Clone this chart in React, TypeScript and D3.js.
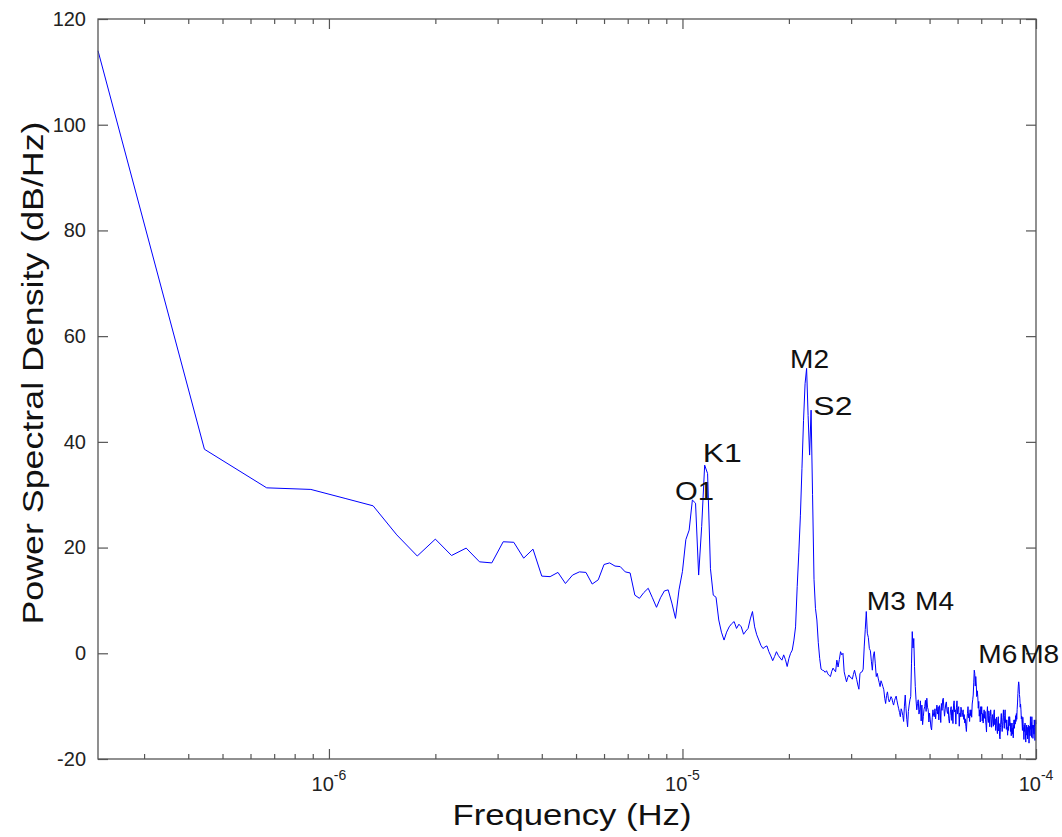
import { useEffect, useRef } from "react";
import * as d3 from "d3";

// frequency resolution of the periodogram (bin k sits at k * binWidthHz)
const binWidthHz = 2.2222e-7;

// PSD in dB/Hz, bins 1..45
const psdLowBand = [
  114.0, 38.6, 31.3, 31.0, 29.3, 27.9, 22.4, 18.4, 21.6, 18.5,
  19.9, 17.3, 17.1, 21.1, 21.0, 18.0, 19.7, 14.6, 14.5, 15.3,
  13.2, 14.8, 15.4, 15.3, 13.1, 13.9, 16.8, 17.1, 16.5, 16.4,
  15.4, 15.2, 11.0, 10.4, 11.5, 12.3, 10.5, 8.7, 10.5, 11.8,
  12.0, 9.5, 6.6, 12.0, 15.5,
];

// bins 46..110 (diurnal and semidiurnal peaks)
const psdTidalBand = [
  21.5, 23.3, 29.0, 28.4, 14.8, 24.0, 35.6, 34.0, 16.0, 11.0,
  10.6, 6.3, 4.0, 2.5, 4.0, 5.0, 5.6, 6.0, 4.7, 5.5,
  5.0, 3.6, 4.2, 4.7, 6.5, 7.9, 5.0, 3.5, 2.5, 1.5,
  0.9, 1.2, 1.4, 0.3, -0.5, -1.4, -0.6, 0.3, -0.4, -0.9,
  -1.3, -0.3, -1.2, -2.5, -1.0, 0.0, 0.6, 2.5, 5.0, 12.6,
  19.0, 26.0, 35.0, 44.0, 51.0, 53.9, 45.0, 37.5, 46.0, 30.0,
  14.0, 8.5, 6.3, 2.0, -1.0,
];

// bins 111..207 (M3, M4)
const psdMidBand = [
  -3.0, -3.2, -3.3, -3.6, -3.3, -3.9, -4.2, -4.4, -3.4, -2.8,
  -3.2, -3.5, -1.3, -2.6, -1.2, 0.3, -0.3, 0.0, -3.5, -4.5,
  -5.4, -4.6, -4.1, -4.5, -4.6, -4.9, -4.0, -3.2, -4.1, -5.0,
  -6.0, -6.8, -3.8, -3.6, -3.5, -3.0, 1.2, 4.5, 7.9, 3.8,
  3.0, 0.9, 0.5, -1.5, -3.2, -0.5, 0.3, -2.0, -4.4, -3.8,
  -4.7, -5.5, -6.3, -5.2, -5.7, -6.3, -6.9, -8.5, -9.5, -8.0,
  -7.3, -8.5, -9.2, -8.8, -8.2, -8.5, -9.3, -9.8, -9.0, -8.5,
  -8.1, -9.0, -9.8, -10.5, -11.2, -12.0, -10.5, -11.0, -11.8, -12.9,
  -10.0, -7.9, -10.5, -12.5, -13.9, -11.0, -9.8, -8.8, -8.2, -2.0,
  4.1, 1.0, 2.8, -2.5, -6.3, -8.8, -10.7,
];

// bins 208..450 (M6, M8 and the noise floor)
const psdHighBand = [
  -9.5, -8.8, -11.5, -10.7, -9.0, -12.8, -9.8, -13.5, -12.0, -10.6,
  -10.1, -8.9, -11.0, -8.5, -10.2, -10.7, -13.0, -11.3, -12.6, -14.0,
  -14.5, -12.2, -10.7, -11.8, -12.0, -10.5, -12.4, -11.0, -9.8, -11.5,
  -10.1, -12.6, -9.9, -10.7, -13.1, -9.5, -10.8, -8.8, -8.5, -10.4,
  -11.9, -10.7, -9.6, -9.2, -10.9, -11.4, -10.2, -12.4, -13.2, -11.8,
  -10.6, -10.1, -12.7, -10.7, -13.3, -9.8, -9.0, -11.1, -10.7, -13.4,
  -10.2, -9.0, -11.5, -10.6, -10.1, -13.8, -11.3, -12.0, -10.2, -10.7,
  -12.0, -11.2, -10.7, -12.5, -11.6, -13.2, -12.4, -13.8, -14.8, -12.6,
  -11.4, -10.1, -12.2, -11.4, -12.9, -10.7, -11.8, -10.7, -12.1, -9.6,
  -8.8, -7.9, -5.6, -3.2, -3.8, -6.2, -4.4, -6.0, -8.2, -7.1,
  -8.2, -10.4, -9.1, -11.9, -10.7, -13.0, -10.1, -11.5, -10.1, -12.8,
  -11.4, -13.2, -11.4, -10.7, -12.3, -11.0, -12.6, -13.6, -14.9, -11.5,
  -10.1, -12.4, -13.1, -10.9, -11.8, -13.9, -12.0, -10.7, -11.9, -14.0,
  -13.2, -11.6, -12.3, -13.8, -11.2, -10.7, -13.5, -12.4, -14.6, -13.2,
  -12.1, -14.3, -15.2, -13.0, -12.0, -14.7, -13.3, -15.8, -16.2, -14.1,
  -12.6, -11.4, -13.5, -14.8, -13.6, -12.1, -10.7, -12.9, -14.2, -11.8,
  -10.7, -13.1, -12.6, -14.4, -12.6, -13.9, -15.5, -13.9, -14.6, -12.0,
  -13.7, -12.0, -12.9, -14.8, -13.2, -15.6, -14.1, -13.2, -15.3, -14.1,
  -16.0, -13.5, -12.6, -14.2, -12.6, -13.4, -11.8, -12.9, -11.4, -12.5,
  -10.6, -9.4, -7.6, -6.2, -5.4, -6.0, -7.8, -8.5, -10.2, -9.6,
  -10.7, -12.4, -11.9, -13.2, -14.6, -12.1, -13.8, -14.5, -16.3, -13.6,
  -14.8, -13.2, -15.1, -16.8, -14.4, -13.6, -15.5, -14.0, -16.2, -15.1,
  -13.6, -14.9, -17.0, -15.1, -13.8, -15.6, -12.0, -14.4, -13.1, -15.9,
  -12.0, -14.2, -13.6, -16.1, -14.7, -13.6, -15.3, -12.6, -14.0, -16.5,
  -13.8, -12.6, -13.4,
];

const yTicks = [-20, 0, 20, 40, 60, 80, 100, 120];
const xMajorTicks = [1e-6, 1e-5, 1e-4];
const xMajorExponents = ["-6", "-5", "-4"];

// tidal constituent labels: name, frequency (Hz) and dB of the text baseline
const tideNames = ["O1", "K1", "M2", "S2", "M3", "M4", "M6", "M8"];
const tideFreqs = [9.53e-6, 1.141e-5, 2.016e-5, 2.346e-5, 3.322e-5, 4.55e-5, 6.87e-5, 9.02e-5];
const tideDb = [29.0, 36.2, 53.9, 45.1, 8.2, 8.2, -1.9, -1.9];

const FONT = "'Liberation Sans', Arial, Helvetica, sans-serif";

export default function App() {
  const svgRef = useRef<SVGSVGElement | null>(null);
  const width = 1062;
  const height = 837;

  useEffect(() => {
    if (!svgRef.current) return;
    const svg = d3.select(svgRef.current);
    svg.selectAll("*").remove();

    const left = 98, right = 1036, top = 19, bottom = 759;
    const psd = [...psdLowBand, ...psdTidalBand, ...psdMidBand, ...psdHighBand];
    const points = psd.map((v, i) => ({ f: (i + 1) * binWidthHz, v }));

    const x = d3.scaleLog().domain([binWidthHz, 1e-4]).range([left, right]);
    const y = d3.scaleLinear().domain([-20, 120]).range([bottom, top]);

    const minorTicks: number[] = [];
    for (const decade of [1e-7, 1e-6, 1e-5]) {
      for (let m = 2; m <= 9; m++) {
        const t = m * decade;
        if (t >= binWidthHz && t <= 1e-4) minorTicks.push(t);
      }
    }

    svg.append("rect").attr("width", width).attr("height", height).attr("fill", "#fff");

    // data line
    const line = d3
      .line<{ f: number; v: number }>()
      .x((d) => x(d.f))
      .y((d) => y(d.v));
    svg
      .append("path")
      .datum(points)
      .attr("d", line)
      .attr("fill", "none")
      .attr("stroke", "#0000ff")
      .attr("stroke-width", 1)
      .attr("stroke-linejoin", "round");

    const axisColor = "#555";
    const styleAxis = (g: d3.Selection<SVGGElement, unknown, null, undefined>) => {
      g.select(".domain").remove();
      g.selectAll(".tick line").attr("stroke", axisColor).attr("stroke-width", 1.2);
    };

    // x ticks bottom + top (inward)
    svg.append("g").attr("transform", `translate(0,${bottom})`)
      .call(d3.axisBottom(x).tickValues(minorTicks).tickSize(-5).tickFormat(() => ""))
      .call(styleAxis);
    svg.append("g").attr("transform", `translate(0,${bottom})`)
      .call(d3.axisBottom(x).tickValues(xMajorTicks).tickSize(-10).tickFormat(() => ""))
      .call(styleAxis);
    svg.append("g").attr("transform", `translate(0,${top})`)
      .call(d3.axisTop(x).tickValues(minorTicks).tickSize(-5).tickFormat(() => ""))
      .call(styleAxis);
    svg.append("g").attr("transform", `translate(0,${top})`)
      .call(d3.axisTop(x).tickValues(xMajorTicks).tickSize(-10).tickFormat(() => ""))
      .call(styleAxis);

    // y ticks left (with labels) + right
    const yl = svg.append("g").attr("transform", `translate(${left},0)`)
      .call(
        d3.axisLeft(y)
          .tickValues(yTicks)
          .tickSize(-10)
          .tickPadding(12)
          .tickFormat((d) => String(d))
      )
      .call(styleAxis);
    yl.selectAll(".tick text")
      .attr("font-family", FONT)
      .attr("font-size", 20)
      .attr("fill", "#222");
    svg.append("g").attr("transform", `translate(${right},0)`)
      .call(d3.axisRight(y).tickValues(yTicks).tickSize(-10).tickFormat(() => ""))
      .call(styleAxis);

    // box
    svg.append("rect")
      .attr("x", left).attr("y", top)
      .attr("width", right - left).attr("height", bottom - top)
      .attr("fill", "none").attr("stroke", axisColor).attr("stroke-width", 1.3);

    // x tick labels 10^n
    xMajorTicks.forEach((t, i) => {
      const txt = svg.append("text")
        .attr("x", x(t)).attr("y", bottom + 32)
        .attr("text-anchor", "middle")
        .attr("font-family", FONT).attr("font-size", 20).attr("fill", "#222");
      txt.append("tspan").text("10");
      txt.append("tspan").attr("dy", -11).attr("font-size", 14).text(xMajorExponents[i]);
    });

    // axis titles
    svg.append("text")
      .attr("x", (left + right) / 2 + 5).attr("y", 825)
      .attr("text-anchor", "middle")
      .attr("font-family", FONT).attr("font-size", 30).attr("fill", "#111")
      .attr("textLength", 239).attr("lengthAdjust", "spacingAndGlyphs")
      .text("Frequency (Hz)");
    svg.append("text")
      .attr("transform", `translate(43,${373}) rotate(-90)`)
      .attr("text-anchor", "middle")
      .attr("font-family", FONT).attr("font-size", 30).attr("fill", "#111")
      .attr("textLength", 503).attr("lengthAdjust", "spacingAndGlyphs")
      .text("Power Spectral Density (dB/Hz)");

    // tidal constituent annotations
    tideNames.forEach((name, i) => {
      svg.append("text")
        .attr("x", x(tideFreqs[i])).attr("y", y(tideDb[i]))
        .attr("font-family", FONT).attr("font-size", 26).attr("fill", "#111")
        .attr("textLength", 39).attr("lengthAdjust", "spacingAndGlyphs")
        .text(name);
    });
  }, []);

  return (
    <svg
      ref={svgRef}
      width={width}
      height={height}
      style={{ position: "absolute", left: 0, top: 0, background: "#fff" }}
    />
  );
}
